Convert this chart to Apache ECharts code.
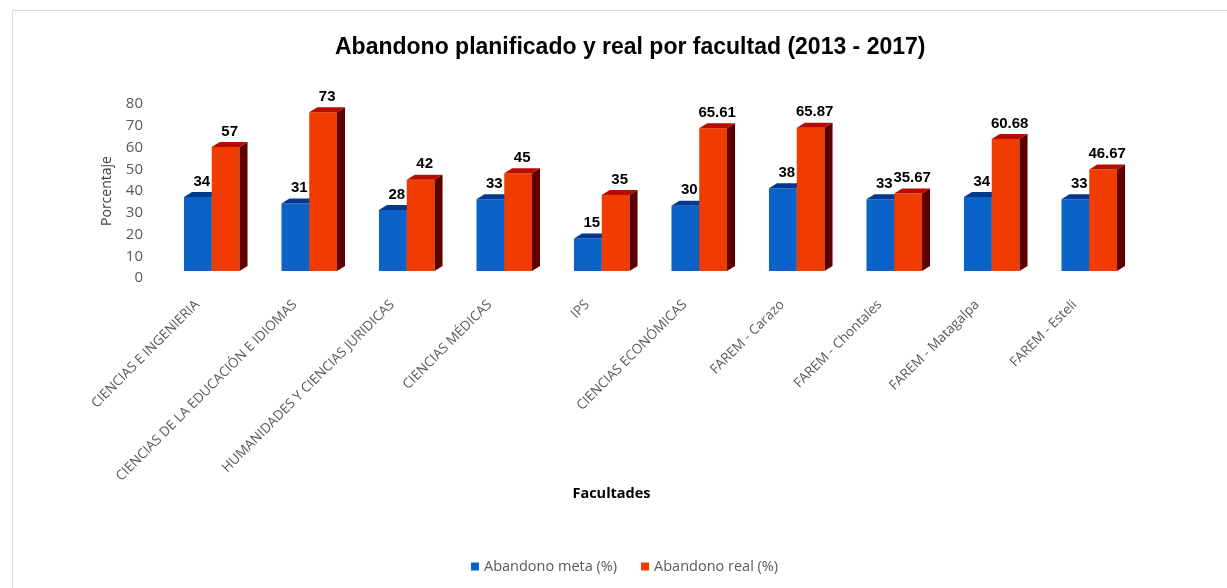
<!DOCTYPE html>
<html>
<head>
<meta charset="utf-8">
<script src="https://cdn.jsdelivr.net/npm/echarts@6/dist/echarts.min.js"></script>
<style>
html,body{margin:0;padding:0;background:#fff;}
#chart{width:1227px;height:588px;}
</style>
</head>
<body>
<div id="chart"></div>
<script>
var categories = [
  "CIENCIAS E INGENIERIA",
  "CIENCIAS DE LA EDUCACIÓN E IDIOMAS",
  "HUMANIDADES Y CIENCIAS JURIDICAS",
  "CIENCIAS MÉDICAS",
  "IPS",
  "CIENCIAS ECONÓMICAS",
  "FAREM - Carazo",
  "FAREM - Chontales",
  "FAREM - Matagalpa",
  "FAREM - Esteli"
];
var seriesNames = ["Abandono meta (%)", "Abandono real (%)"];
var abandonoMeta = [34, 31, 28, 33, 15, 30, 38, 33, 34, 33];
var abandonoReal = [57, 73, 42, 45, 35, 65.61, 65.87, 35.67, 60.68, 46.67];
var yTicks = [0, 10, 20, 30, 40, 50, 60, 70, 80];

var palettes = [
  {front: '#0b63c9', top: '#00398f', side: '#002a6b'},
  {front: '#f03c00', top: '#b80c00', side: '#5e0000'}
];

function makeRender(sIdx) {
  var pal = palettes[sIdx];
  return function (params, api) {
    var idx = api.value(0), val = api.value(1);
    var base = api.coord([idx, 0]);
    var top = api.coord([idx, val]);
    var band = api.size([1, 0])[0];
    var bw = band * 0.285;
    var lift = -7;
    var dx = 8, dz = -5;
    var x0 = base[0] - bw + sIdx * bw - 1;
    var x1 = x0 + bw;
    var yb = base[1] + lift;
    var yt = top[1] + lift;
    var children = [
      {type: 'rect', shape: {x: x0, y: yt, width: bw, height: yb - yt}, style: {fill: pal.front}},
      {type: 'polygon', shape: {points: [[x0, yt], [x1, yt], [x1 + dx, yt + dz], [x0 + dx, yt + dz]]}, style: {fill: pal.top}},
      {type: 'polygon', shape: {points: [[x1, yt], [x1 + dx, yt + dz], [x1 + dx, yb + dz], [x1, yb]]}, style: {fill: pal.side}},
      {type: 'text', style: {
        text: String(val), x: x0 + bw / 2 + dx / 2, y: yt + dz - 3,
        align: 'center', verticalAlign: 'bottom',
        font: 'bold 15px "Liberation Sans", Arial, sans-serif', fill: '#000'
      }}
    ];
    return {type: 'group', children: children};
  };
}

var chart = echarts.init(document.getElementById('chart'), null, {renderer: 'canvas'});
var option = {
  backgroundColor: '#ffffff',
  animation: false,
  title: {
    text: 'Abandono planificado y real por facultad (2013 - 2017)',
    left: 330, top: 31,
    textStyle: {fontFamily: '"Liberation Sans", Arial, sans-serif', fontSize: 23, fontWeight: 'bold', color: '#000'}
  },
  graphic: [{
    type: 'rect', left: 10, top: 8, shape: {width: 1220, height: 590},
    style: {fill: 'none', stroke: '#d9d9d9', lineWidth: 1}, silent: true, z: -1
  }],
  legend: {
    bottom: 9, left: 466, itemWidth: 8, itemHeight: 8, itemGap: 24, icon: 'rect',
    textStyle: {fontFamily: '"Open Sans", sans-serif', fontSize: 14.5, color: '#595959'},
    data: seriesNames
  },
  grid: {left: 164, right: 88, top: 104, bottom: 310, containLabel: false},
  xAxis: {
    type: 'category', data: categories,
    name: 'Facultades', nameLocation: 'middle', nameGap: 208,
    nameTextStyle: {fontFamily: '"Open Sans", sans-serif', fontSize: 14.5, fontWeight: 'bold', color: '#000', padding: [0, 80, 0, 0]},
    axisLine: {show: false}, axisTick: {show: false},
    axisLabel: {rotate: 45, interval: 0, margin: 9, padding: [0, 22, 0, 0], fontFamily: '"Open Sans", sans-serif', fontSize: 13.5, color: '#595959'}
  },
  yAxis: {
    type: 'value', min: 0, max: 80, interval: 10,
    name: 'Porcentaje', nameLocation: 'middle', nameGap: 50,
    nameTextStyle: {fontFamily: '"Open Sans", sans-serif', fontSize: 14, color: '#404040'},
    axisLine: {show: false}, axisTick: {show: false}, splitLine: {show: false},
    axisLabel: {margin: 21, fontFamily: '"Open Sans", sans-serif', fontSize: 15, color: '#595959',
      formatter: function (v) { return yTicks.indexOf(v) >= 0 ? String(v) : ''; }}
  },
  series: [
    {name: seriesNames[0], type: 'custom', renderItem: makeRender(0), itemStyle: {color: palettes[0].front},
     encode: {x: 0, y: 1}, data: abandonoMeta.map(function (v, i) { return [i, v]; }), z: 2},
    {name: seriesNames[1], type: 'custom', renderItem: makeRender(1), itemStyle: {color: palettes[1].front},
     encode: {x: 0, y: 1}, data: abandonoReal.map(function (v, i) { return [i, v]; }), z: 3}
  ]
};
chart.setOption(option);
</script>
</body>
</html>
